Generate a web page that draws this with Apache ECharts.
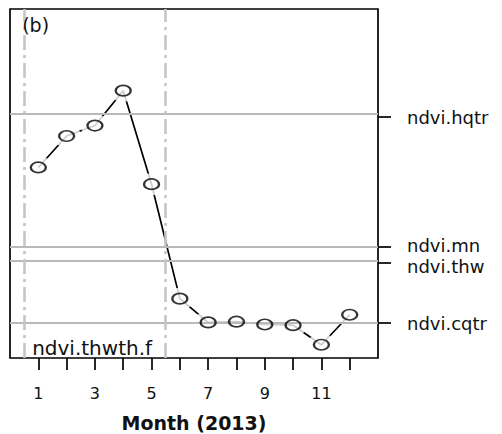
<!DOCTYPE html>
<html>
<head>
<meta charset="utf-8">
<script src="https://cdn.jsdelivr.net/npm/echarts@6/dist/echarts.min.js"></script>
<style>
  html, body { margin: 0; padding: 0; background: #fff; }
  #chart { width: 502px; height: 434px; }
</style>
</head>
<body>
<div id="chart"></div>
<script>
// Monthly NDVI, 2013
const months = [1, 2, 3, 4, 5, 6, 7, 8, 9, 10, 11, 12];
const ndvi = [0.373, 0.418, 0.433, 0.483, 0.349, 0.185, 0.151, 0.152, 0.148, 0.147, 0.119, 0.162];

// Reference levels drawn as horizontal lines, labelled on the right axis
const refNames = ['ndvi.hqtr', 'ndvi.mn', 'ndvi.thw', 'ndvi.cqtr'];
const refValues = [0.445, 0.259, 0.237, 0.150];
// nudge for the two closely spaced labels so they do not collide
const refLabelStyle = ['plain', 'up', 'down', 'plain'];

// Boundaries of the period marked with dot-dash lines
const periodBounds = [0.5, 5.5];
const periodName = 'ndvi.thwth.f';

// Bottom axis tick labels
const monthTickLabels = [1, 3, 5, 7, 9, 11];

const panelTag = '(b)';
const xTitle = 'Month (2013)';

const FONT = 'DejaVu Sans';
const ELLIPSE = 'path://M0,10A10,10,0,1,1,20,10A10,10,0,1,1,0,10Z';

const points = months.map((m, i) => [m, ndvi[i]]);

const chart = echarts.init(document.getElementById('chart'), null, { renderer: 'svg' });

const labelText = { fontFamily: FONT, fontSize: 18, color: '#111' };

chart.setOption({
  animation: false,
  backgroundColor: '#fff',
  grid: {
    left: 10, top: 9, width: 368, height: 349,
    outerBoundsMode: 'none',
    show: true, borderColor: '#000', borderWidth: 1.7, backgroundColor: 'transparent'
  },
  xAxis: {
    type: 'value', min: 0, max: 13,
    axisLine: { show: false, onZero: false },
    splitLine: { show: false },
    axisTick: { show: true, inside: false, customValues: months, length: 12, lineStyle: { color: '#000', width: 1.7 } },
    axisLabel: {
      customValues: monthTickLabels,
      margin: 27,
      fontFamily: FONT, fontSize: 16, color: '#111'
    },
    name: xTitle,
    nameLocation: 'middle',
    nameGap: 55,
    nameTextStyle: { fontFamily: FONT, fontSize: 19, fontWeight: 'bold', color: '#111' }
  },
  yAxis: {
    type: 'value', min: 0.1, max: 0.6, position: 'right',
    axisLine: { show: false, onZero: false },
    splitLine: { show: false },
    axisTick: { show: true, inside: false, customValues: refValues, length: 13, lineStyle: { color: '#000', width: 1.7 } },
    axisLabel: {
      customValues: refValues,
      margin: 29,
      fontFamily: FONT, fontSize: 18, color: '#111',
      formatter: v => {
        const i = refValues.indexOf(v);
        return '{' + refLabelStyle[i] + '|' + refNames[i] + '}';
      },
      rich: {
        plain: labelText,
        up: Object.assign({ padding: [0, 0, 4, 0] }, labelText),
        down: Object.assign({ padding: [8, 0, 0, 0] }, labelText)
      }
    }
  },
  series: [
    {
      // connecting line
      type: 'line', data: points, z: 1,
      symbol: 'none',
      lineStyle: { color: '#000', width: 1.7 },
      silent: true
    },
    {
      // white halo so the line stops short of each point
      type: 'scatter', data: points, z: 2,
      symbol: ELLIPSE, symbolSize: [29, 22],
      itemStyle: { color: '#fff', borderWidth: 0 },
      silent: true
    },
    {
      // reference lines
      type: 'line', data: [], z: 3,
      markLine: {
        z: 3, silent: true, symbol: ['none', 'none'],
        label: { show: false },
        data: [
          ...refValues.map(v => ({ yAxis: v, lineStyle: { color: '#b9b9b9', width: 2, type: 'solid' } })),
          ...periodBounds.map(v => ({ xAxis: v, lineStyle: { color: '#c6c6c6', width: 2.6, type: [15, 5, 3, 5] } }))
        ]
      }
    },
    {
      // open points
      type: 'scatter', data: points, z: 4,
      symbol: ELLIPSE, symbolSize: [15, 10.5],
      itemStyle: { color: 'transparent', borderColor: '#000', borderWidth: 2 },
      silent: true
    }
  ]
});

// Text annotations anchored to data coordinates
const tagPos = chart.convertToPixel({ gridIndex: 0 }, [periodBounds[0], 0.6]);
const periodPos = chart.convertToPixel({ gridIndex: 0 }, [periodBounds[0], 0.1]);
chart.setOption({
  graphic: [
    {
      type: 'text', x: tagPos[0] - 2, y: tagPos[1] + 6, z: 10,
      style: { text: panelTag, fontFamily: FONT, fontSize: 19, fill: '#111' }
    },
    {
      type: 'text', x: periodPos[0] + 8, y: periodPos[1] - 20, z: 10,
      style: { text: periodName, fontFamily: FONT, fontSize: 20, fill: '#111' }
    }
  ]
});
</script>
</body>
</html>
